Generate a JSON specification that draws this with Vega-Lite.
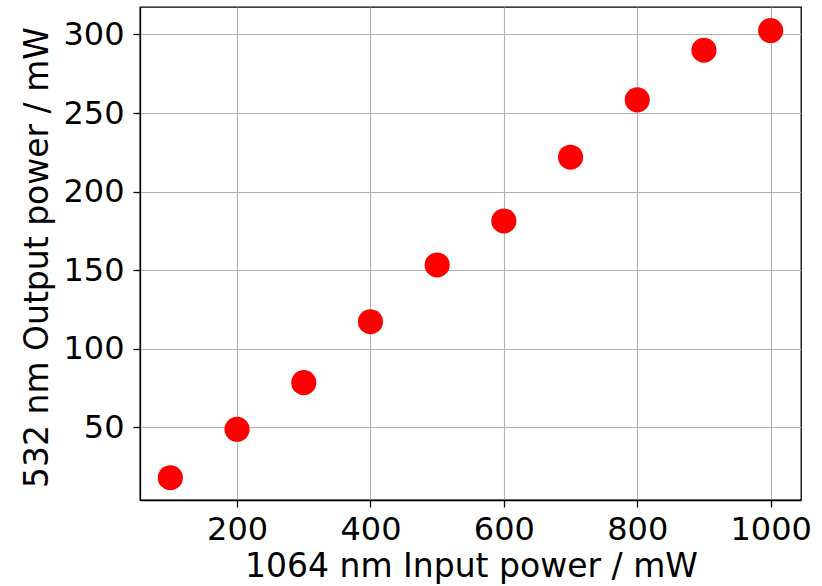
{
  "$schema": "https://vega.github.io/schema/vega-lite/v6.json",
  "autosize": {"type": "none"},
  "width": 661,
  "height": 493,
  "padding": {"left": 140, "top": 7, "right": 21, "bottom": 86},
  "background": "white",
  "config": {
    "view": {"stroke": "black", "strokeWidth": 1.3},
    "font": "DejaVu Sans",
    "axis": {
      "labelFont": "DejaVu Sans",
      "titleFont": "DejaVu Sans",
      "labelFontSize": 32,
      "titleFontSize": 33,
      "titleFontWeight": "normal",
      "labelColor": "black",
      "titleColor": "black",
      "domainColor": "black",
      "domainWidth": 1.3,
      "tickColor": "black",
      "tickWidth": 1.3,
      "tickSize": 7,
      "gridColor": "#b0b0b0",
      "gridWidth": 1.1,
      "gridOpacity": 1
    }
  },
  "data": {
    "values": [
      {"input": 100, "output": 17.9},
      {"input": 200, "output": 48.7},
      {"input": 300, "output": 78.4},
      {"input": 400, "output": 117.2},
      {"input": 500, "output": 153.3},
      {"input": 600, "output": 181.3},
      {"input": 700, "output": 221.9},
      {"input": 800, "output": 258.4},
      {"input": 900, "output": 290.0},
      {"input": 1000, "output": 302.5}
    ]
  },
  "mark": {"type": "circle", "color": "#ff0000", "opacity": 1, "size": 630},
  "encoding": {
    "x": {
      "field": "input",
      "type": "quantitative",
      "scale": {"domain": [54.5, 1045.5], "nice": false, "zero": false},
      "axis": {
        "title": "1064 nm Input power / mW",
        "values": [200, 400, 600, 800, 1000],
        "format": "d",
        "labelPadding": 7,
        "labelFlush": false,
        "labelOverlap": false,
        "titleX": 331,
        "titleY": 76,
        "titleBaseline": "alphabetic",
        "titleAlign": "center"
      }
    },
    "y": {
      "field": "output",
      "type": "quantitative",
      "scale": {"domain": [3.7, 317.5], "nice": false, "zero": false},
      "axis": {
        "title": "532 nm Output power / mW",
        "values": [50, 100, 150, 200, 250, 300],
        "format": "d",
        "labelPadding": 9,
        "labelFlush": false,
        "labelOverlap": false,
        "titleX": -93,
        "titleY": 250,
        "titleAngle": -90,
        "titleBaseline": "alphabetic",
        "titleAlign": "center"
      }
    }
  }
}
